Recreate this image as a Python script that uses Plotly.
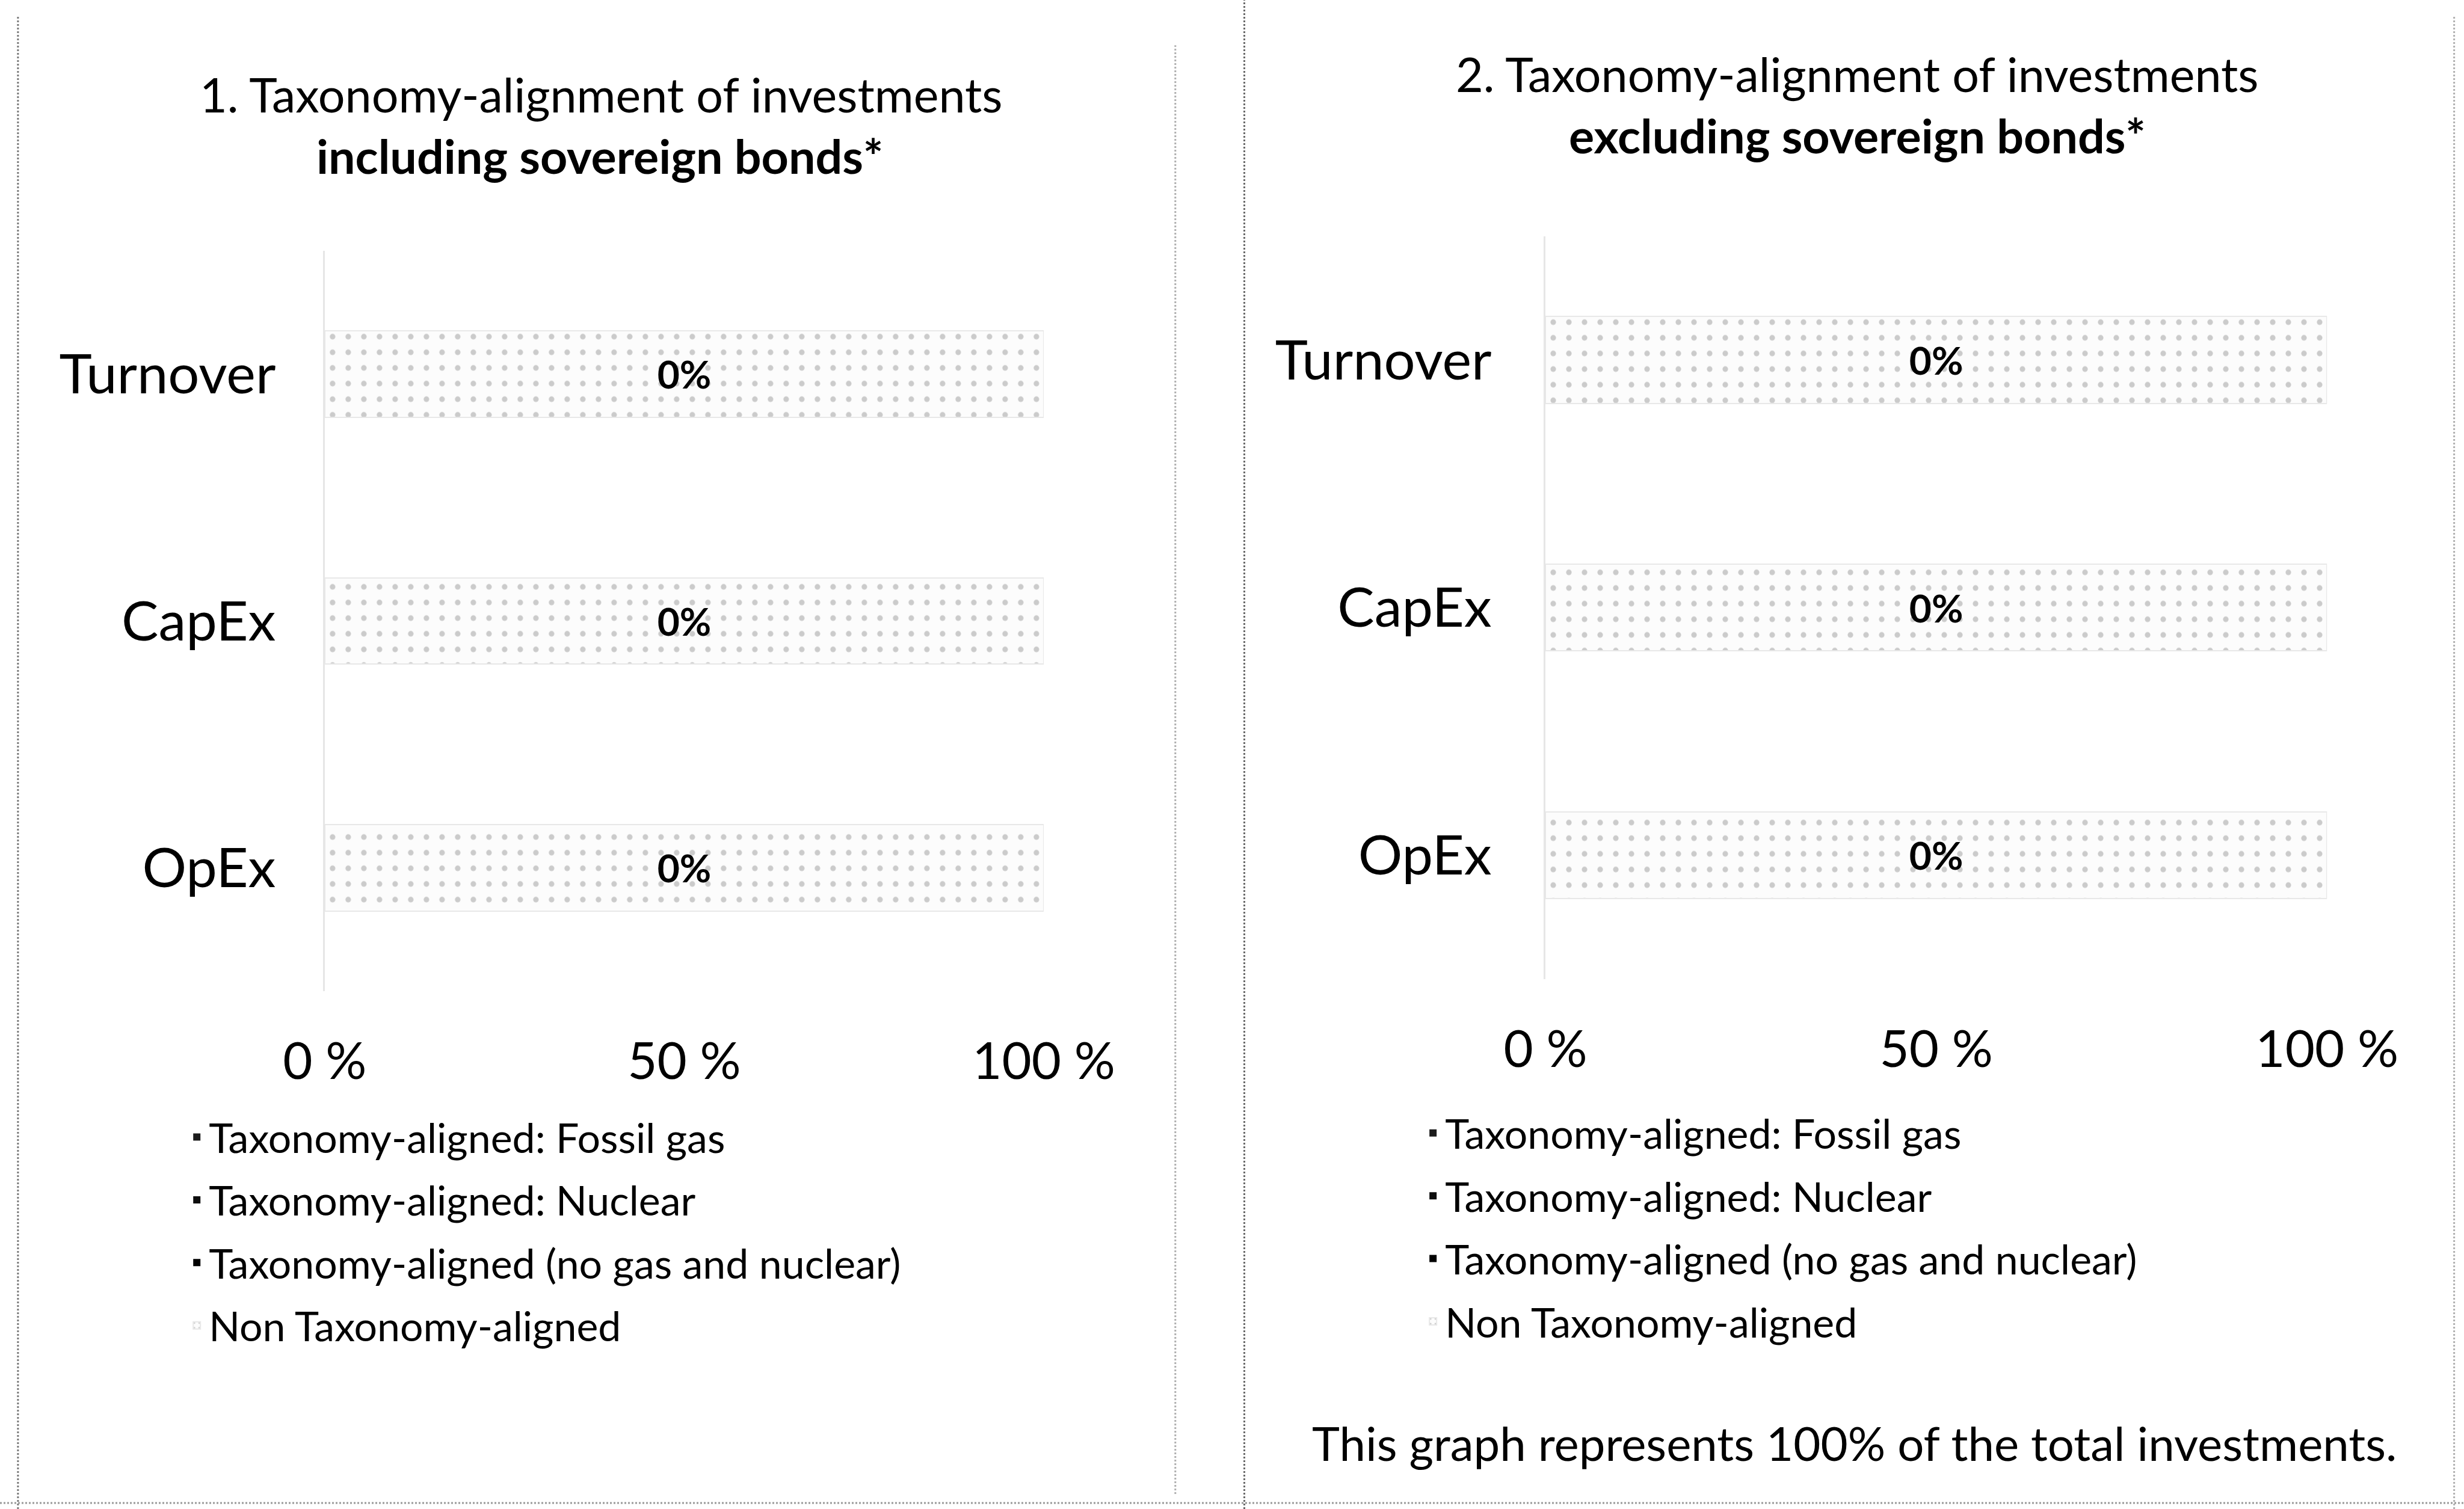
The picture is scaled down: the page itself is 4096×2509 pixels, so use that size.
import plotly.graph_objects as go

# ---------------- data ----------------
categories = ["Turnover", "CapEx", "OpEx"]
series_names = [
    "Taxonomy-aligned: Fossil gas",
    "Taxonomy-aligned: Nuclear",
    "Taxonomy-aligned (no gas and nuclear)",
    "Non Taxonomy-aligned",
]
# chart 1: including sovereign bonds
incl_fossil_gas = [0, 0, 0]
incl_nuclear = [0, 0, 0]
incl_aligned_other = [0, 0, 0]
incl_non_aligned = [100, 100, 100]
# chart 2: excluding sovereign bonds
excl_fossil_gas = [0, 0, 0]
excl_nuclear = [0, 0, 0]
excl_aligned_other = [0, 0, 0]
excl_non_aligned = [100, 100, 100]

tick_vals = [0, 50, 100]
tick_text = ["0 %", "50 %", "100 %"]

title1_l1 = "1. Taxonomy-alignment of investments"
title1_l2 = "<b>including sovereign bonds*</b>"
title2_l1 = "2. Taxonomy-alignment of investments"
title2_l2 = "<b>excluding sovereign bonds*</b>"
footer = "This graph represents 100% of the total investments."

# ---------------- style ----------------
W, H = 4096, 2509
FONT = "Lato, 'Open Sans', sans-serif"
colors = ["#1c1c1c", "#0d0d0d", "#000000", "#fcfcfc"]

fig = go.Figure()


def add_chart(vals, xa, ya, legend):
    fossil, nuclear, other, non = vals
    aligned_total = [a + b + c for a, b, c in zip(fossil, nuclear, other)]
    labels = [f"<b>{v:.0f}%</b>" for v in aligned_total]
    for i, (name, v) in enumerate(zip(series_names, vals)):
        if i == 3:
            kw = dict(
                text=labels,
                textposition="inside",
                insidetextanchor="middle",
                insidetextfont=dict(family=FONT, size=64, color="#000000"),
                textangle=0,
                marker=dict(
                    color=colors[i],
                    line=dict(color="#e8e8e8", width=2),
                    pattern=dict(shape=".", fgcolor="#9a9a9a", bgcolor="#fcfcfc",
                                 size=26, solidity=0.1),
                ),
            )
        else:
            kw = dict(marker=dict(color=colors[i], line=dict(width=0)))
        fig.add_trace(go.Bar(
            y=categories, x=v, orientation="h", name=name,
            xaxis=xa, yaxis=ya, legend=legend, legendgroup=f"{legend}{i}",
            hoverinfo="skip", **kw))


add_chart([incl_fossil_gas, incl_nuclear, incl_aligned_other, incl_non_aligned], "x", "y", "legend")
add_chart([excl_fossil_gas, excl_nuclear, excl_aligned_other, excl_non_aligned], "x2", "y2", "legend2")

axis_x = dict(range=[0, 100], tickvals=tick_vals, ticktext=tick_text, showgrid=False,
              zeroline=False, showline=False, ticks="", ticklabelstandoff=60,
              tickfont=dict(family=FONT, size=85, color="#000000"), fixedrange=True)
axis_y = dict(range=[2.5, -0.5], type="category", showgrid=False, zeroline=False,
              showline=True, linecolor="#e6e6e6", linewidth=3, ticks="",
              tickfont=dict(family=FONT, size=92, color="#000000"), fixedrange=True)

legend_common = dict(
    orientation="v", bgcolor="rgba(0,0,0,0)", borderwidth=0,
    font=dict(family=FONT, size=68, color="#000000"),
    tracegroupgap=13, itemwidth=30, xanchor="left", yanchor="top",
    traceorder="grouped",
)

fig.update_layout(
    width=W, height=H,
    margin=dict(l=0, r=0, t=0, b=0, pad=0, autoexpand=False),
    paper_bgcolor="#ffffff", plot_bgcolor="rgba(0,0,0,0)",
    barmode="stack", bargap=0.65,
    showlegend=True,
    xaxis=dict(domain=[0.1318, 0.4236], anchor="y", **axis_x),
    yaxis=dict(domain=[0.3432, 0.8339], anchor="x", ticklabelstandoff=60, **axis_y),
    xaxis2=dict(domain=[0.6272, 0.9444], anchor="y2", **axis_x),
    yaxis2=dict(domain=[0.3513, 0.8435], anchor="x2", ticklabelstandoff=68, **axis_y),
    legend=dict(x=0.075, y=0.2667, **legend_common),
    legend2=dict(x=0.5767, y=0.2694, **legend_common),
    font=dict(family=FONT, color="#000000"),
)

annots = [
    (title1_l1, 0.2439, 0.9375, 79),
    (title1_l2, 0.2433, 0.8969, 79),
    (title2_l1, 0.7538, 0.9510, 79),
    (title2_l2, 0.7538, 0.9104, 79),
    (footer, 0.7526, 0.0438, 78),
]
for txt, x, y, fs in annots:
    fig.add_annotation(text=txt, x=x, y=y, xref="paper", yref="paper",
                       xanchor="center", yanchor="middle", showarrow=False,
                       font=dict(family=FONT, size=fs, color="#000000"))

# scanned page frame lines
frame = [
    (0.0073, 0.0073, 0.0, 0.99, "#7a7a7a"),
    (0.477, 0.477, 0.01, 0.97, "#b0b0b0"),
    (0.505, 0.505, 0.0, 1.0, "#6a6a6a"),
    (0.996, 0.996, 0.0, 0.99, "#b0b0b0"),
]
for x0, x1, y0, y1, c in frame:
    fig.add_shape(type="line", xref="paper", yref="paper", x0=x0, x1=x1, y0=y0, y1=y1,
                  line=dict(color=c, width=3, dash="dot"))
fig.add_shape(type="line", xref="paper", yref="paper", x0=0.0, x1=1.0, y0=0.004, y1=0.004,
              line=dict(color="#9a9a9a", width=3, dash="dot"))

fig.write_html("out.html", config={"displayModeBar": False},
               post_script="document.body.style.margin='0px';")
